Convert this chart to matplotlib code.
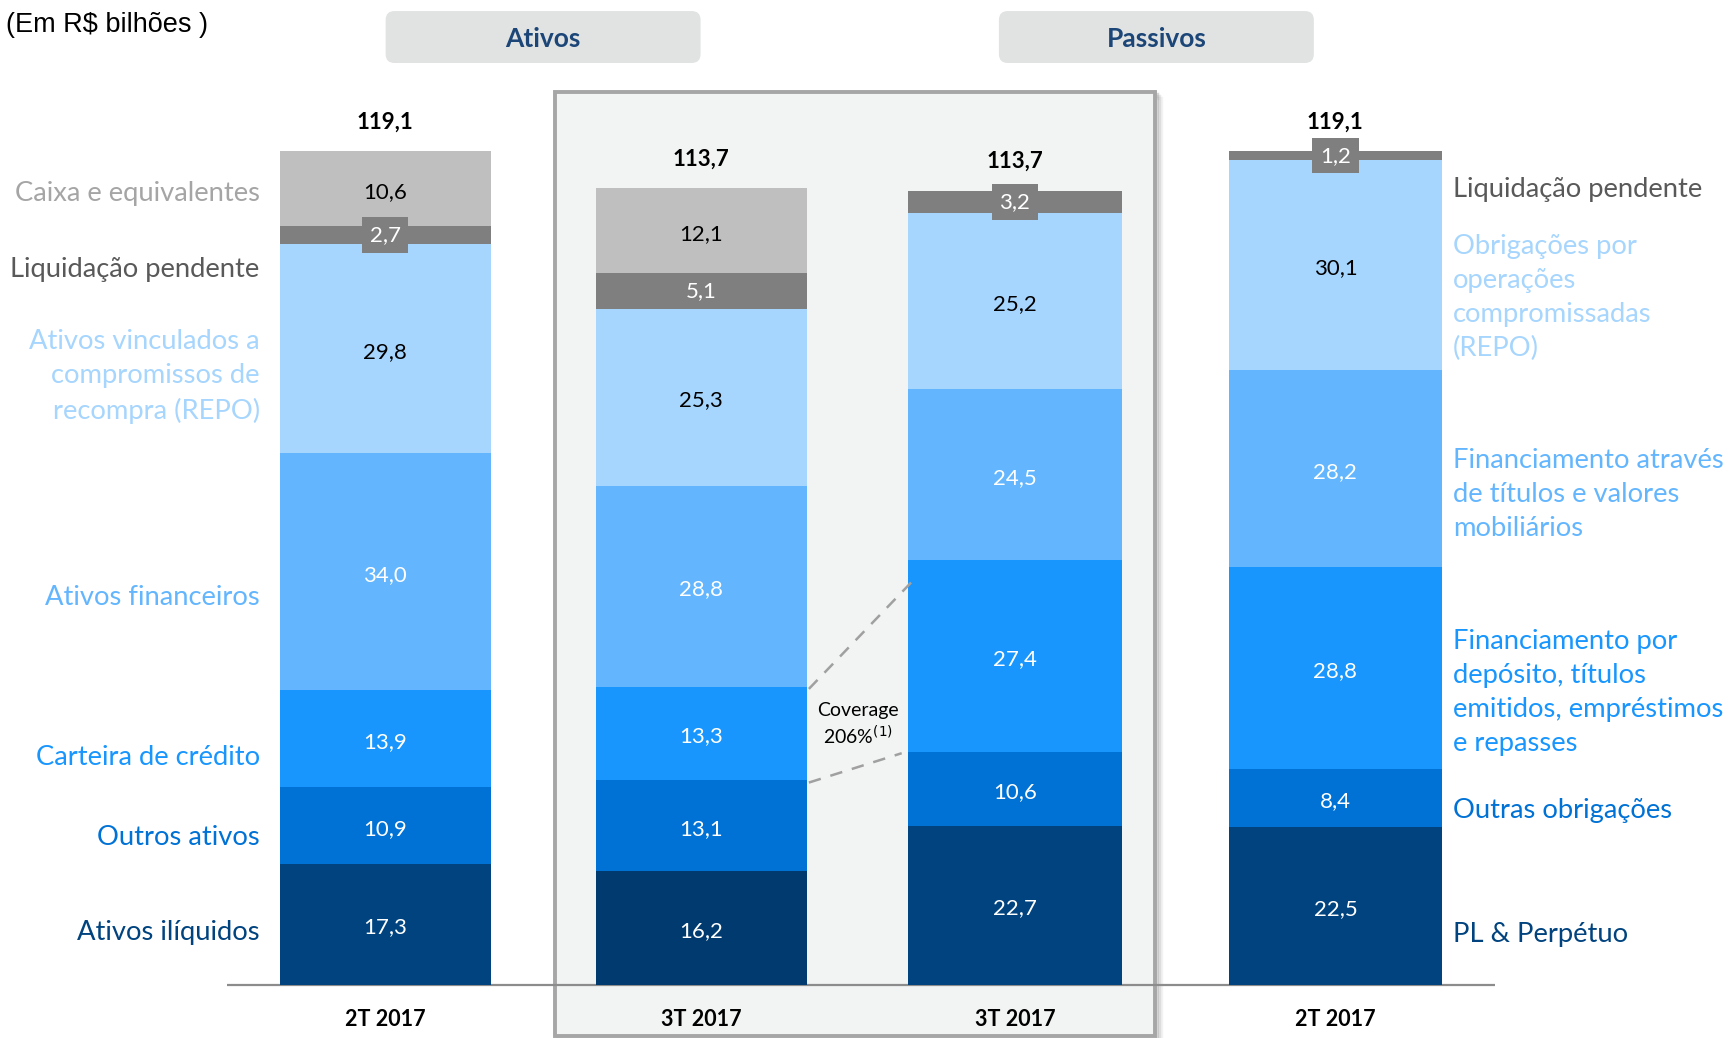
import matplotlib
matplotlib.use("Agg")
import matplotlib.pyplot as plt
from matplotlib.patches import Rectangle, FancyBboxPatch

# ---------------- data ----------------
categories = ["2T 2017", "3T 2017", "3T 2017", "2T 2017"]
# bottom -> top
ativos_2t = [17.3, 10.9, 13.9, 34.0, 29.8, 2.7, 10.6]
ativos_3t = [16.2, 13.1, 13.3, 28.8, 25.3, 5.1, 12.1]
passivos_3t = [22.7, 10.6, 27.4, 24.5, 25.2, 3.2]
passivos_2t = [22.5, 8.4, 28.8, 28.2, 30.1, 1.2]
totals = [119.1, 113.7, 113.7, 119.1]

ativos_labels = ["Ativos ilíquidos", "Outros ativos", "Carteira de crédito",
                 "Ativos financeiros",
                 "Ativos vinculados a\ncompromissos de\nrecompra (REPO)",
                 "Liquidação pendente", "Caixa e equivalentes"]
passivos_labels = ["PL & Perpétuo", "Outras obrigações",
                   "Financiamento por\ndepósito, títulos\nemitidos, empréstimos\ne repasses",
                   "Financiamento através\nde títulos e valores\nmobiliários",
                   "Obrigações por\noperações\ncompromissadas\n(REPO)",
                   "Liquidação pendente"]
coverage_text = "Coverage\n206%$^{(1)}$"

# ---------------- style ----------------
FONT = ["Lato", "DejaVu Sans"]
plt.rcParams["font.family"] = FONT

seg_colors = ["#00437e", "#0071d5", "#1896fe", "#63b6fe", "#a6d5fd", "#7f7f7f", "#bfbfbf"]
iliq_3t_color = "#003a6e"
label_colors_a = ["#00437e", "#0071d5", "#1896fe", "#63b6fe", "#a6d5fd", "#595959", "#a5a5a5"]
label_colors_p = ["#00437e", "#0071d5", "#1896fe", "#63b6fe", "#a6d5fd", "#595959"]
text_on = ["white", "white", "white", "white", "black", "white", "black"]

W, H = 1733, 1038
fig = plt.figure(figsize=(W / 100, H / 100), dpi=100)
ax = fig.add_axes([0, 0, 1, 1])
ax.set_axis_off()

# layout in "display" units (x: 0..1568 px, y in R$ bi)
SC = 6.325          # px per unit
BASE = 891.0        # baseline px from top
HD = H / 1.105
ax.set_xlim(0, W / 1.105)
ax.set_ylim(-(HD - BASE) / SC, BASE / SC)


def Y(ypx):
    return (BASE - ypx) / SC


asp = 1 / SC
LBL_DY = 0.45   # small downward shift so digits look vertically centred

# highlighted box (3T 2017)
for off, a in [(6, 0.10), (4, 0.18), (2, 0.30)]:
    ax.add_patch(Rectangle((502 + off, Y(938) - off / SC), 543, Y(83) - Y(938),
                           fc="none", ec="#808080", lw=2.5, alpha=a, zorder=0.5))
ax.add_patch(Rectangle((502, Y(938)), 543, Y(83) - Y(938), fc="#f2f3f3",
                       ec="#a6a6a6", lw=2.8, zorder=1))

# header boxes
for x0, txt in [(349, "Ativos"), (904, "Passivos")]:
    ax.add_patch(FancyBboxPatch((x0, Y(57)), 285, Y(10) - Y(57),
                                boxstyle="round,pad=0,rounding_size=8",
                                mutation_aspect=asp, fc="#e1e2e2", ec="none", zorder=1))
    ax.text(x0 + 142.5, Y(35.5), txt, ha="center", va="center", fontsize=19,
            fontweight="bold", color="#1b4677", zorder=3)

ax.text(5, Y(23), "(Em R$ bilhões )", ha="left", va="center", fontsize=19.5,
        family=["Liberation Sans Narrow", "Liberation Sans", "DejaVu Sans"], color="black")

# baseline
ax.plot([205, 1353], [0, 0], color="#8c8c8c", lw=1.6, zorder=2, solid_capstyle="butt")

bars = [ativos_2t, ativos_3t, passivos_3t, passivos_2t]
centers = [348.5, 634.5, 918.5, 1208.5]
widths = [191, 191, 193, 193]


def fmt(v):
    return f"{v:.1f}".replace(".", ",")


for i, vals in enumerate(bars):
    bottom = 0.0
    for j, v in enumerate(vals):
        col = seg_colors[j]
        if i == 1 and j == 0:
            col = iliq_3t_color
        ax.bar(centers[i], v, width=widths[i], bottom=bottom, color=col,
               edgecolor="none", zorder=3)
        yc = bottom + v / 2
        if j == 5:
            ax.text(centers[i], yc, fmt(v), ha="center", va="center", fontsize=16,
                    color="white", zorder=5,
                    bbox=dict(boxstyle="square,pad=0.35", fc="#7f7f7f", ec="none"))
        else:
            ax.text(centers[i], yc - LBL_DY, fmt(v), ha="center", va="center", fontsize=16,
                    color=text_on[j], zorder=5)
        bottom += v
    ax.text(centers[i], bottom + 4.2, fmt(totals[i]), ha="center", va="center",
            fontsize=16, fontweight="bold", color="black", zorder=5)
    ax.text(centers[i], Y(922.5), categories[i], ha="center", va="center",
            fontsize=15.5, fontweight="bold", color="black", zorder=5)

# left labels (assets)
left_y = [842, 756, 684, 539, 339, 242, 174]
for lab, yy, c in zip(ativos_labels, left_y, label_colors_a):
    ax.text(235, Y(yy + 1.5), lab, ha="right", va="center", fontsize=19.7, color=c,
            linespacing=1.45, zorder=5)

# right labels (liabilities)
right_y = [844, 732, 625.5, 446, 268, 170]
for lab, yy, c in zip(passivos_labels, right_y, label_colors_p):
    ax.text(1315, Y(yy + 1.5), lab, ha="left", va="center", fontsize=19.7, color=c,
            linespacing=1.45, zorder=5)

# coverage annotation
a_cum = [sum(ativos_3t[:k]) for k in range(len(ativos_3t) + 1)]
p_cum = [sum(passivos_3t[:k]) for k in range(len(passivos_3t) + 1)]
x_r2 = centers[1] + widths[1] / 2 + 2
x_l3 = centers[2] - widths[2] / 2
ax.plot([x_r2, x_l3 + 3], [a_cum[3] - 0.3, a_cum[3] + 15.0], ls=(0, (5, 4)),
        color="#a0a0a0", lw=1.8, zorder=4)
ax.plot([x_r2, x_l3 - 6], [a_cum[2] - 0.4, p_cum[2] - 0.2], ls=(0, (5, 4)),
        color="#a0a0a0", lw=1.8, zorder=4)
ax.text(776, Y(656), coverage_text, ha="center", va="center", fontsize=14,
        color="black", linespacing=1.25, zorder=5)

fig.savefig("out.png", dpi=100)
